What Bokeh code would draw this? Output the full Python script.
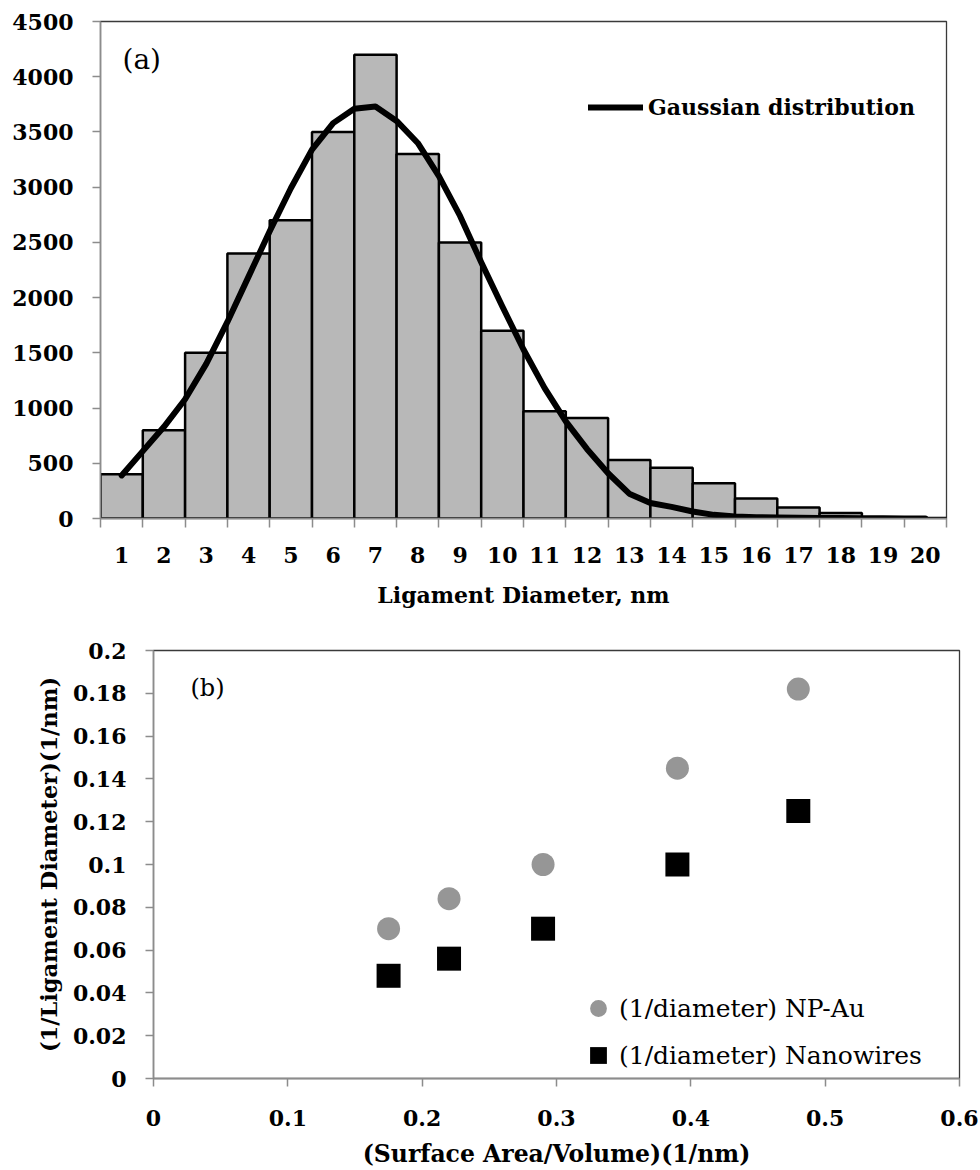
from bokeh.plotting import figure
from bokeh.models import Range1d, FixedTicker, Legend, LegendItem, Label
from bokeh.embed import file_html
from bokeh.resources import INLINE

# ---------------- data: panel (a) ----------------
diam_bins = [1, 2, 3, 4, 5, 6, 7, 8, 9, 10, 11, 12, 13, 14, 15, 16, 17, 18, 19, 20]
counts = [400, 800, 1500, 2400, 2700, 3500, 4200, 3300, 2500, 1700,
          970, 910, 530, 460, 320, 180, 100, 50, 10, 5]
count_ticks = [0, 500, 1000, 1500, 2000, 2500, 3000, 3500, 4000, 4500]

gauss_x = [1, 1.5, 2, 2.5, 3, 3.5, 4, 4.5, 5, 5.5, 6, 6.5, 7, 7.5, 8, 8.5, 9, 9.5, 10, 10.5,
           11, 11.5, 12, 12.5, 13, 13.5, 14, 14.5, 15, 15.5, 16, 16.5, 17, 17.5, 18, 18.5,
           19, 19.5, 20]
gauss_y = [390, 610, 830, 1080, 1400, 1780, 2190, 2600, 2990, 3340, 3580, 3710, 3730, 3600,
           3400, 3100, 2740, 2320, 1920, 1530, 1180, 880, 630, 410, 225, 140, 105, 63, 33,
           19, 12, 8, 6, 5, 4, 3, 2, 1, 0]

# ---------------- data: panel (b) ----------------
sa_over_v = [0.175, 0.22, 0.29, 0.39, 0.48]
inv_d_npau = [0.070, 0.084, 0.100, 0.145, 0.182]
inv_d_nanowires = [0.048, 0.056, 0.070, 0.100, 0.125]
x_ticks_b = [0, 0.1, 0.2, 0.3, 0.4, 0.5, 0.6]
x_tick_labels_b = ["0", "0.1", "0.2", "0.3", "0.4", "0.5", "0.6"]
y_ticks_b = [0, 0.02, 0.04, 0.06, 0.08, 0.1, 0.12, 0.14, 0.16, 0.18, 0.2]
y_tick_labels_b = ["0", "0.02", "0.04", "0.06", "0.08", "0.1", "0.12", "0.14", "0.16", "0.18", "0.2"]

FONT = "DejaVu Serif"
AXIS_GREY = "#8c8c8c"
FRAME_DARK = "#3a3a3a"


def style_axis(ax, label_size="22px", title_size="22px"):
    ax.axis_line_color = AXIS_GREY
    ax.axis_line_width = 1.5
    ax.major_tick_line_color = AXIS_GREY
    ax.major_tick_line_width = 1.5
    ax.minor_tick_line_color = AXIS_GREY
    ax.minor_tick_line_width = 1.5
    ax.major_tick_in = 0
    ax.minor_tick_in = 0
    ax.minor_tick_out = 0
    ax.major_label_text_font = FONT
    ax.major_label_text_font_size = label_size
    ax.major_label_text_font_style = "bold"
    ax.major_label_text_color = "black"
    ax.axis_label_text_font = FONT
    ax.axis_label_text_font_size = title_size
    ax.axis_label_text_font_style = "bold"
    ax.axis_label_text_color = "black"


# ================= panel (a) =================
p1 = figure(width=980, height=620, x_range=Range1d(0.5, 20.5), y_range=Range1d(0, 4500),
            output_backend="svg", toolbar_location=None,
            min_border_left=100, min_border_right=34, min_border_top=21, min_border_bottom=102)
p1.xgrid.visible = False
p1.ygrid.visible = False
p1.outline_line_color = FRAME_DARK
p1.outline_line_width = 1.3

p1.vbar(x=diam_bins, top=counts, width=1.0, fill_color="#B8B8B8",
        line_color="black", line_width=2.5)
gline = p1.line(gauss_x, gauss_y, line_color="black", line_width=6,
                line_join="round", line_cap="round")

bin_edges = [b - 0.5 for b in diam_bins] + [diam_bins[-1] + 0.5]
xa = p1.xaxis[0]
style_axis(xa)
xa.ticker = FixedTicker(ticks=diam_bins, minor_ticks=bin_edges)
xa.major_tick_out = 0
xa.minor_tick_out = 9
xa.major_label_standoff = 19
xa.axis_label = "Ligament Diameter, nm"
xa.axis_label_standoff = 16

ya = p1.yaxis[0]
style_axis(ya)
ya.ticker = FixedTicker(ticks=count_ticks)
ya.major_tick_out = 8
ya.major_label_standoff = 19

leg1 = Legend(items=[LegendItem(label="Gaussian distribution", renderers=[gline])],
              location=(488, 398), orientation="vertical",
              glyph_width=55, glyph_height=22, label_height=22, label_standoff=5,
              padding=0, margin=0, spacing=0,
              border_line_alpha=0, background_fill_alpha=0,
              label_text_font=FONT, label_text_font_size="22px",
              label_text_font_style="bold", label_text_color="black")
p1.add_layout(leg1)

p1.add_layout(Label(x=22, y=476, x_units="screen", y_units="screen", text="(a)",
                    text_font=FONT, text_font_size="28px", text_baseline="top",
                    text_color="black"))

# ================= panel (b) =================
p2 = figure(width=980, height=550, x_range=Range1d(0, 0.6), y_range=Range1d(0, 0.2),
            output_backend="svg", toolbar_location=None,
            min_border_left=153, min_border_right=21, min_border_top=30, min_border_bottom=91)
p2.xgrid.visible = False
p2.ygrid.visible = False
p2.outline_line_color = FRAME_DARK
p2.outline_line_width = 1.3

r_circ = p2.scatter(sa_over_v, inv_d_npau, marker="circle", size=23,
                    fill_color="#969696", line_color=None)
r_sq = p2.scatter(sa_over_v, inv_d_nanowires, marker="square", size=24,
                  fill_color="black", line_color=None)

xb = p2.xaxis[0]
style_axis(xb, title_size="23.5px")
xb.ticker = FixedTicker(ticks=x_ticks_b)
xb.major_label_overrides = dict(zip(x_ticks_b, x_tick_labels_b))
xb.major_tick_out = 8
xb.major_label_standoff = 23
xb.axis_label = "(Surface Area/Volume)(1/nm)"
xb.axis_label_standoff = 11

yb = p2.yaxis[0]
style_axis(yb, title_size="22.5px")
yb.ticker = FixedTicker(ticks=y_ticks_b)
yb.major_label_overrides = dict(zip(y_ticks_b, y_tick_labels_b))
yb.major_tick_out = 8
yb.major_label_standoff = 19
yb.axis_label = "(1/Ligament Diameter)(1/nm)"
yb.axis_label_standoff = 8

leg2 = Legend(items=[LegendItem(label="(1/diameter) NP-Au", renderers=[r_circ]),
                     LegendItem(label="(1/diameter) Nanowires", renderers=[r_sq])],
              location=(424, 2), orientation="vertical",
              glyph_width=42, glyph_height=42, label_height=42, label_standoff=0,
              padding=0, margin=0, spacing=5,
              border_line_alpha=0, background_fill_alpha=0,
              label_text_font=FONT, label_text_font_size="25px",
              label_text_color="black")
p2.add_layout(leg2)

p2.add_layout(Label(x=37, y=405, x_units="screen", y_units="screen", text="(b)",
                    text_font=FONT, text_font_size="24px", text_baseline="top",
                    text_color="black"))

# two independent roots stacked, so each panel keeps its own frame position
open("out.html", "w").write(file_html([p1, p2], INLINE))
